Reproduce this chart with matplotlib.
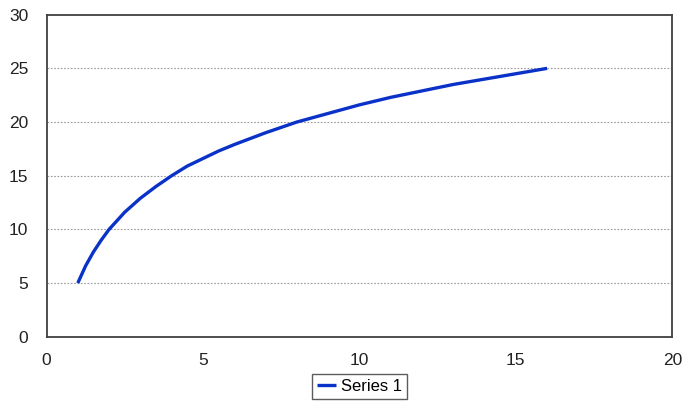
import matplotlib
matplotlib.use("Agg")
import matplotlib.pyplot as plt

x_values = [1, 1.25, 1.5, 1.75, 2, 2.5, 3, 3.5, 4, 4.5, 5, 5.5, 6, 7, 8, 9, 10, 11, 12, 13, 14, 15, 16]
series_1 = [5, 6.6, 7.9, 9.0, 10, 11.6, 12.9, 14.0, 15, 15.9, 16.6, 17.3, 17.9, 19.0, 20, 20.8, 21.6, 22.3, 22.9, 23.5, 24.0, 24.5, 25]
x_ticks = [0, 5, 10, 15, 20]
y_ticks = [0, 5, 10, 15, 20, 25, 30]

plt.rcParams['font.family'] = ['Liberation Sans', 'DejaVu Sans']

fig = plt.figure(figsize=(6.84, 4.04), dpi=100)
ax = fig.add_axes([46.5/684, 1 - 336.7/404, (672.3-46.5)/684, (336.7-14.7)/404])

ax.plot(x_values, series_1, color='#0a32c8', lw=2.4, label='Series 1',
        solid_capstyle='butt', solid_joinstyle='round')

ax.set_xlim(0, 20)
ax.set_ylim(0, 30)
ax.set_xticks(x_ticks)
ax.set_yticks(y_ticks)
ax.tick_params(length=0, labelsize=12.5, colors='#222222')
ax.tick_params(axis='y', pad=13)
ax.tick_params(axis='x', pad=12)
for s in ax.spines.values():
    s.set_color('#404040')
    s.set_linewidth(1.3)
for yv in y_ticks[1:-1]:
    ax.axhline(yv, color='#999999', lw=0.8, ls=(0, (1.5, 1.5)), zorder=0)

leg = ax.legend(loc='upper center', bbox_to_anchor=(0.5, -0.115), frameon=True,
                fancybox=False, edgecolor='#333333', fontsize=12,
                handlelength=1.1, handletextpad=0.3, borderpad=0.3,
                borderaxespad=0)
leg.get_frame().set_linewidth(1.0)

fig.savefig('out.png', dpi=100, facecolor='white')
